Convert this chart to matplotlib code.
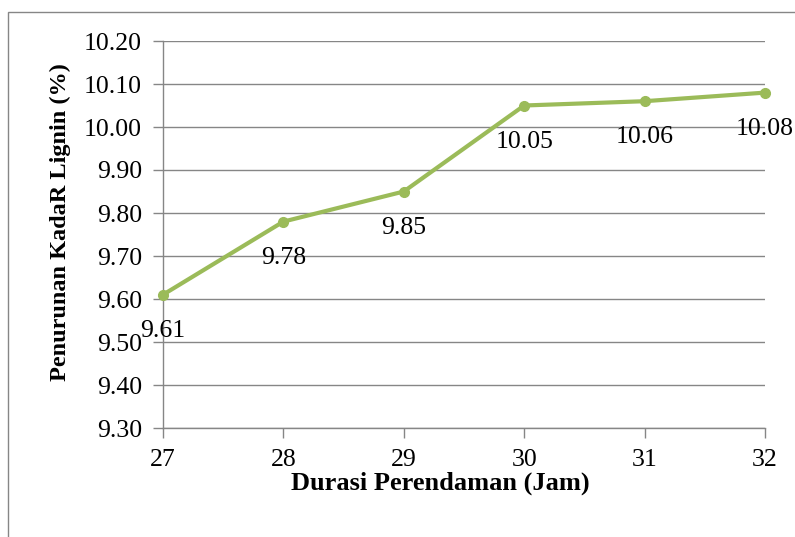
import matplotlib
matplotlib.use("Agg")
import matplotlib.pyplot as plt
from matplotlib.patches import Rectangle

hours = [27, 28, 29, 30, 31, 32]
lignin = [9.61, 9.78, 9.85, 10.05, 10.06, 10.08]
labels = ["9.61", "9.78", "9.85", "10.05", "10.06", "10.08"]
yticks = [9.30, 9.40, 9.50, 9.60, 9.70, 9.80, 9.90, 10.00, 10.10, 10.20]

plt.rcParams['font.family'] = ['Liberation Serif', 'DejaVu Serif']

W, H = 795, 537
fig = plt.figure(figsize=(W/100, H/100), dpi=100)
ax = fig.add_axes([163/W, 1-428/H, (765-163)/W, (428-41)/H])

green = '#9BBB59'
grid = '#868686'
ax.plot(hours, lignin, color=green, lw=3, marker='o', ms=7, zorder=3, clip_on=False)
for x, y, t in zip(hours, lignin, labels):
    ax.annotate(t, (x, y), xytext=(0, -36), textcoords='offset pixels',
                ha='center', va='center', fontsize=18.5, color='black', zorder=4)

ax.set_xlim(27, 32)
ax.set_ylim(9.30, 10.20)
ax.set_yticks(yticks)
ax.set_yticklabels([f"{v:.2f}" for v in yticks])
ax.set_xticks(hours)
ax.grid(axis='y', color=grid, lw=1)
ax.set_axisbelow(True)
for s in ['top', 'right']:
    ax.spines[s].set_visible(False)
for s in ['left', 'bottom']:
    ax.spines[s].set_color(grid)
    ax.spines[s].set_linewidth(1)
ax.tick_params(axis='y', length=7, color=grid, labelsize=18.5, pad=8, width=1)
ax.tick_params(axis='x', length=7, color=grid, labelsize=18.5, pad=8, width=1)
ax.set_xlabel("Durasi Perendaman (Jam)", fontsize=19, fontweight='bold')
ax.xaxis.set_label_coords((440-163)/(765-163), -(483-428)/(428-41))
ax.xaxis.label.set_va('center')
ax.set_ylabel("Penurunan KadaR Lignin (%)", fontsize=17.5, fontweight='bold')
ax.yaxis.set_label_coords(-(163-60)/(765-163), (428-222)/(428-41))
ax.yaxis.label.set_va('center')

fig.patches.append(Rectangle((8/W, -0.1), 1.2, 1-12/H+0.1, transform=fig.transFigure,
                             fill=False, edgecolor='#868686', lw=1))

fig.savefig("out.png", dpi=100)
